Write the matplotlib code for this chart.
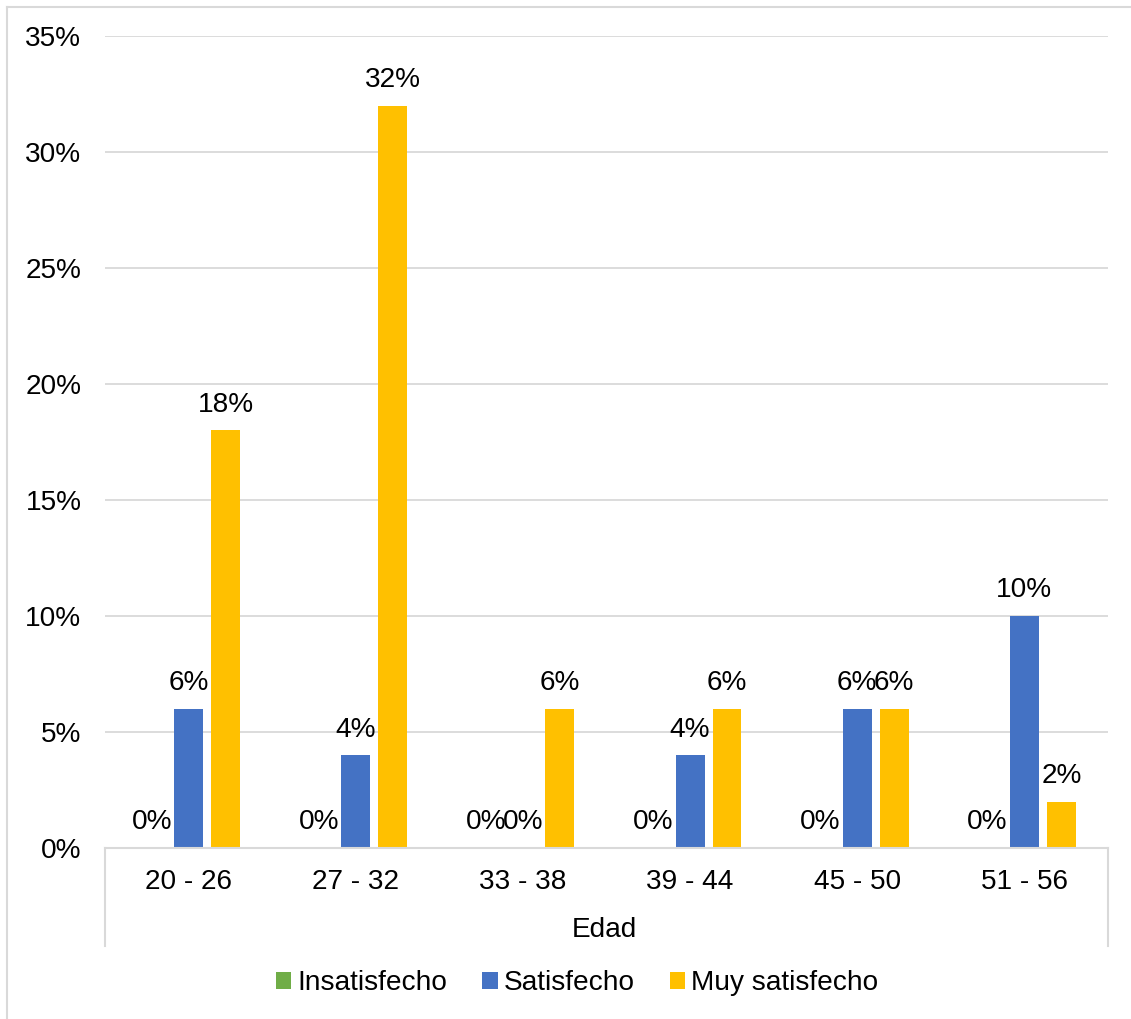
import numpy as np
from matplotlib import pyplot as plt
from matplotlib.lines import Line2D

plt.rcParams["font.family"] = ["Liberation Sans", "DejaVu Sans"]

categories = ["20 - 26", "27 - 32", "33 - 38", "39 - 44", "45 - 50", "51 - 56"]
series_names = ["Insatisfecho", "Satisfecho", "Muy satisfecho"]
insatisfecho = [0, 0, 0, 0, 0, 0]
satisfecho = [6, 4, 0, 4, 6, 10]
muy_satisfecho = [18, 32, 6, 6, 6, 2]
colors = ["#70AD47", "#4472C4", "#FFC000"]

W, H = 1131, 1019
fig = plt.figure(figsize=(W / 100, H / 100), dpi=100)
ax = fig.add_axes([105 / W, 1 - 848 / H, (1108 - 105) / W, (848 - 36) / H])

x = np.arange(len(categories))
width = 0.173
step = 0.221
grid_c = "#D9D9D9"
fs = 20.2

for i, (vals, name, col) in enumerate(zip([insatisfecho, satisfecho, muy_satisfecho], series_names, colors)):
    pos = x + (i - 1) * step
    ax.bar(pos, vals, width, color=col, label=name, zorder=3)
    for px, v in zip(pos, vals):
        ax.annotate(f"{v}%", (px, v), xytext=(0, 18.5), textcoords="offset points",
                    ha="center", va="center", fontsize=fs, color="#000000")

ax.set_xlim(-0.5, len(categories) - 0.5)
ax.set_ylim(0, 35)
ax.set_yticks(range(0, 36, 5))
ax.set_yticklabels([f"{t}%" for t in range(0, 36, 5)], fontsize=fs)
ax.set_xticks(x)
ax.set_xticklabels(categories, fontsize=fs)
ax.tick_params(axis="both", length=0)
ax.tick_params(axis="y", pad=17)
ax.tick_params(axis="x", pad=15)
ax.yaxis.grid(True, color=grid_c, linewidth=1.3, zorder=0)
for s in ["top", "right", "left"]:
    ax.spines[s].set_visible(False)
ax.spines["bottom"].set_color(grid_c)
ax.spines["bottom"].set_linewidth(1.5)
ax.spines["bottom"].set_zorder(4)

# outer category separators below the axis
for xf in (105, 1108):
    fig.add_artist(Line2D([xf / W, xf / W], [1 - 848 / H, 1 - 946 / H], color=grid_c, linewidth=1.5))

fig.text(604 / W, 1 - 930 / H, "Edad", ha="center", va="center", fontsize=fs)

handles, labels = ax.get_legend_handles_labels()
fig.legend(handles, labels, loc="center", bbox_to_anchor=(577 / W, 1 - 983 / H), ncol=3,
           frameon=False, fontsize=fs, handlelength=0.55, handleheight=0.55,
           handletextpad=0.22, columnspacing=1.25)

# chart frame
fig.add_artist(Line2D([7 / W, 1], [1 - 7 / H, 1 - 7 / H], color=grid_c, linewidth=1.5))
fig.add_artist(Line2D([7 / W, 7 / W], [0, 1 - 7 / H], color=grid_c, linewidth=1.5))

plt.savefig("out.png", dpi=100)
